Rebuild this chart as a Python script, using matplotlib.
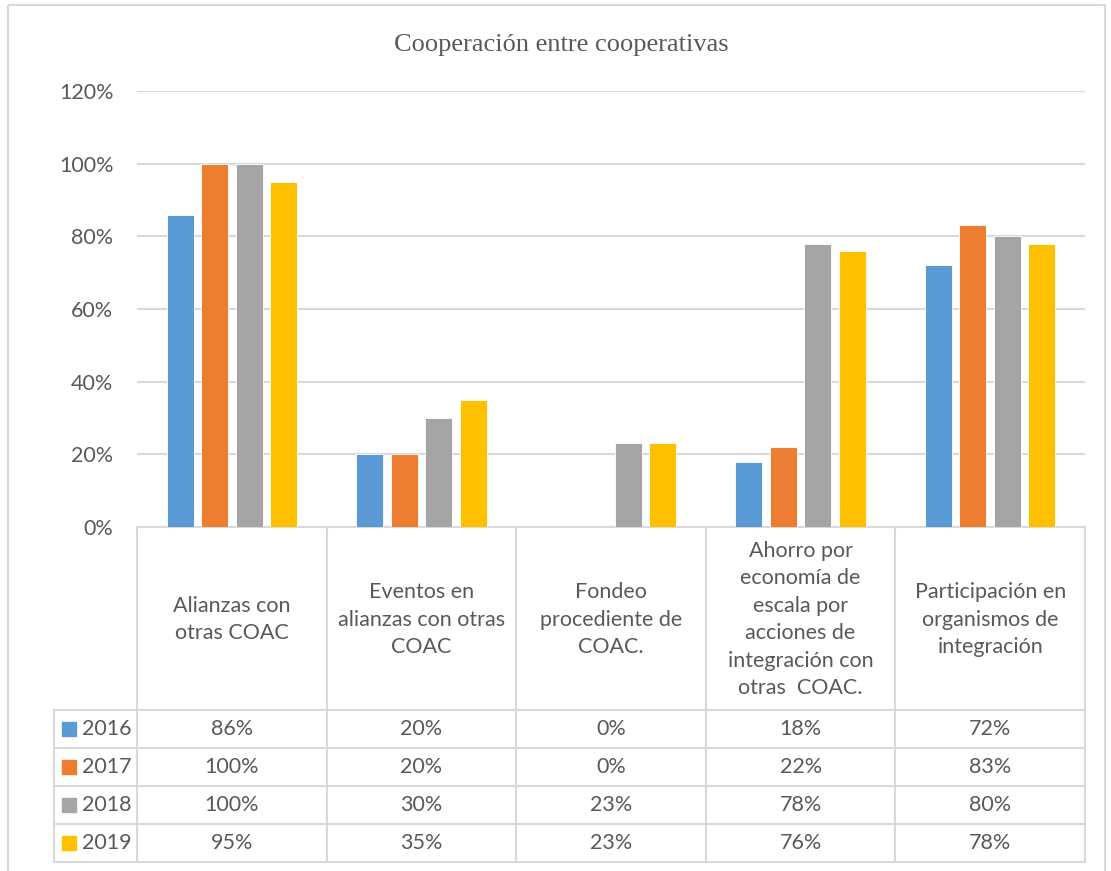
#!/usr/bin/env python
"""Cooperación entre cooperativas: clustered bars with an Excel-style data table."""
import matplotlib

matplotlib.use("Agg")
import matplotlib.pyplot as plt
from matplotlib.patches import Rectangle

categories = [
    "Alianzas con\notras COAC",
    "Eventos en\nalianzas con otras\nCOAC",
    "Fondeo\nprocediente de\nCOAC.",
    "Ahorro por\neconomía de\nescala por\nacciones de\nintegración con\notras  COAC.",
    "Participación en\norganismos de\nintegración",
]
years = ["2016", "2017", "2018", "2019"]
v2016 = [0.86, 0.20, 0.00, 0.18, 0.72]
v2017 = [1.00, 0.20, 0.00, 0.22, 0.83]
v2018 = [1.00, 0.30, 0.23, 0.78, 0.80]
v2019 = [0.95, 0.35, 0.23, 0.76, 0.78]
series = [v2016, v2017, v2018, v2019]
colors = ["#5B9BD5", "#ED7D31", "#A5A5A5", "#FFC000"]
yticks = [0, 0.2, 0.4, 0.6, 0.8, 1.0, 1.2]

TXT = "#595959"
GRID = "#D9D9D9"
FONT = ["Lato", "DejaVu Sans"]
W, H = 1111, 871

fig = plt.figure(figsize=(W / 100, H / 100), dpi=100)

# pixel layout (top-left origin)
px0, px1 = 137, 1085
py_top, py0 = 91, 527
row_edges = [527, 710, 748, 786, 824, 862]
leg_x = 54

ax = fig.add_axes([px0 / W, 1 - py0 / H, (px1 - px0) / W, (py0 - py_top) / H])
n = len(categories)
step, width = 0.182, 0.142
for i, (vals, c) in enumerate(zip(series, colors)):
    xs = [k + (i - 1.5) * step for k in range(n)]
    ax.bar(xs, vals, width=width, color=c, edgecolor="white", linewidth=0.6, zorder=3)
ax.set_xlim(-0.5, n - 0.5)
ax.set_ylim(0, 1.2)
ax.set_yticks(yticks)
ax.set_yticklabels([f"{int(round(t * 100))}%" for t in yticks], fontsize=15.5, color=TXT, family=FONT)
ax.set_xticks([])
ax.tick_params(axis="y", length=0, pad=17)
ax.grid(axis="y", color=GRID, linewidth=1.5, zorder=0)
for s in ax.spines.values():
    s.set_visible(False)

# overlay in pixel coordinates for frame, title and data table
ov = fig.add_axes([0, 0, 1, 1], zorder=-1)
ov.set_xlim(0, W)
ov.set_ylim(H, 0)
ov.axis("off")
ov.add_patch(Rectangle((8, 5), 1097, 900, fill=False, edgecolor=GRID, linewidth=1.5))
ov.text((px0 + px1) / 2 - 50, 45, "Cooperación entre cooperativas", ha="center", va="center",
        fontsize=19, color=TXT, family="Liberation Serif")

colw = (px1 - px0) / n
lk = dict(color=GRID, linewidth=1.5)
# horizontal lines
ov.plot([px0, px1], [row_edges[0]] * 2, **lk)
for y in row_edges[1:]:
    ov.plot([leg_x, px1], [y, y], **lk)
# vertical lines
for k in range(n + 1):
    ov.plot([px0 + k * colw] * 2, [row_edges[0], row_edges[-1]], **lk)
ov.plot([leg_x, leg_x], [row_edges[1], row_edges[-1]], **lk)

tk = dict(fontsize=15.5, color=TXT, family=FONT, ha="center", va="center")
for k, cat in enumerate(categories):
    cx = px0 + (k + 0.5) * colw
    ov.text(cx, (row_edges[0] + row_edges[1]) / 2 + 1, cat, linespacing=1.47, **tk)
    for r, vals in enumerate(series):
        cy = (row_edges[r + 1] + row_edges[r + 2]) / 2
        ov.text(cx, cy, f"{int(round(vals[k] * 100))}%", **tk)

for r, (yr, c) in enumerate(zip(years, colors)):
    cy = (row_edges[r + 1] + row_edges[r + 2]) / 2
    ov.add_patch(Rectangle((62, cy - 7), 14, 14, color=c))
    ov.text(82, cy, yr, fontsize=15.5, color=TXT, family=FONT, ha="left", va="center")

fig.savefig("out.png", dpi=100)
